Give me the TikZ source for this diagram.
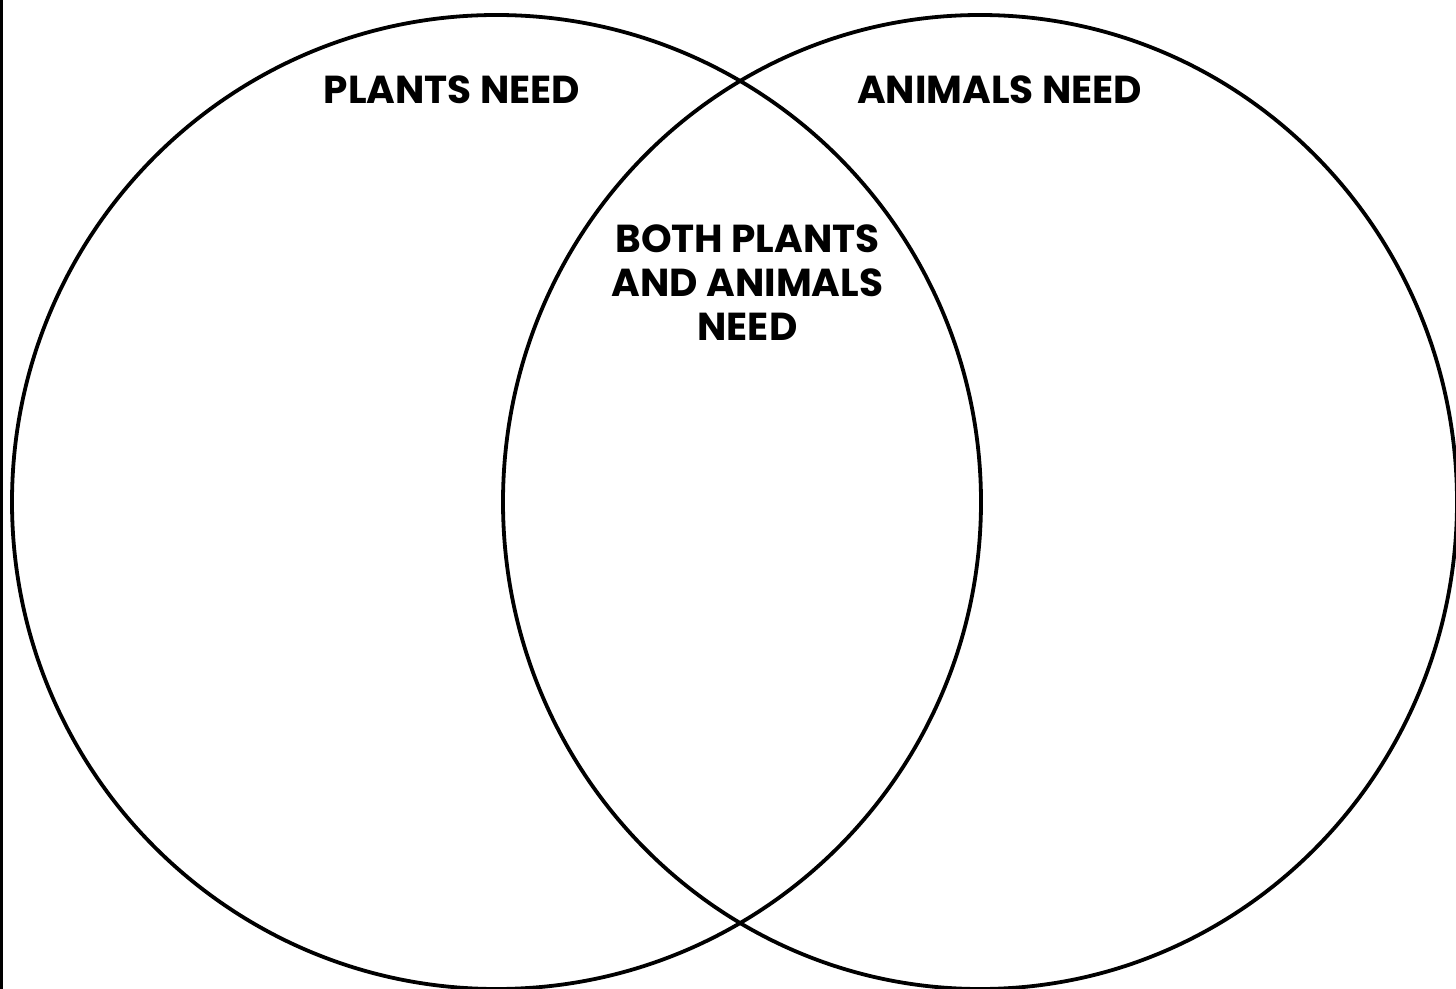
\documentclass[tikz,border=0pt]{standalone}
\usepackage{fontspec}
\setsansfont{Poppins}
\usetikzlibrary{shapes.geometric}

\begin{document}
\begin{tikzpicture}[x=0.5pt, y=-0.5pt,
  setcirc/.style={draw=black, ellipse, line width=1.9pt, minimum height=487pt, inner sep=0pt},
  heading/.style={font=\sffamily\bfseries\fontsize{19.5}{22}\selectfont, align=center, inner sep=0pt}
]
\useasboundingbox (0,0) rectangle (1456,989);
\draw[line width=1.5pt] (1,0) -- (1,989);
\node[setcirc, minimum width=484.5pt] (plants) at (496.5,502) {};
\node[setcirc, minimum width=477pt] (animals) at (980,502) {};
\node[heading] (plantslbl) at (452,90) {PLANTS NEED};
\node[heading] (animalslbl) at (999.5,90) {ANIMALS NEED};
\node[heading] (bothlbl) at (747.5,283) {BOTH PLANTS\\AND ANIMALS\\NEED};
\end{tikzpicture}
\end{document}
